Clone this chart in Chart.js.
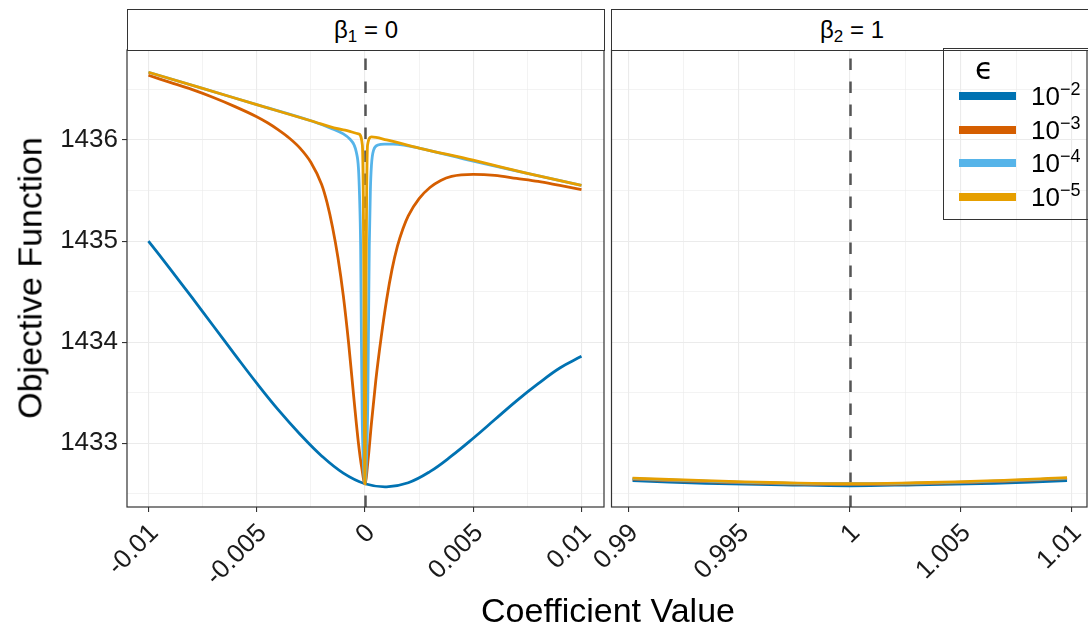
<!DOCTYPE html>
<html>
<head>
<meta charset="utf-8">
<script src="https://cdn.jsdelivr.net/npm/chart.js@4.4.1/dist/chart.umd.min.js"></script>
<style>
  body { margin: 0; background: #fff; }
  #wrap { position: relative; width: 1088px; height: 627px; overflow: hidden;
          font-family: "Liberation Sans", Arial, sans-serif; color: #000; background: #fff; }
  canvas { position: absolute; left: 0; top: 0; }
  .strip { position: absolute; top: 9px; height: 40px; border: 1px solid #333; background: #fff;
           font-size: 24px; text-align: center; line-height: 40px; box-sizing: content-box; }
  .strip sub { font-size: 17px; vertical-align: -4px; line-height: 0; }
  #ytitle { position: absolute; left: 30px; top: 278px; transform: translate(-50%, -50%) rotate(-90deg);
            font-size: 34px; white-space: nowrap; }
  #xtitle { position: absolute; left: 608px; top: 610px; transform: translate(-50%, -50%);
            font-size: 34px; white-space: nowrap; }
  #legend { position: absolute; left: 943px; top: 48px; width: 160px; height: 170px;
            border: 1px solid #333; background: transparent; }
  #legend .ltitle { position: absolute; left: 31px; top: 2px; font-family: "DejaVu Sans", sans-serif; font-size: 30px; }
  #legend .row { position: absolute; left: 0; height: 34px; width: 160px; }
  #legend .key { position: absolute; left: 15px; width: 57px; height: 8px; top: 13px; }
  #legend .lab { position: absolute; left: 87px; top: 2px; font-size: 26px; white-space: nowrap; }
  #legend .lab sup { font-size: 18px; vertical-align: 10px; line-height: 0; }
</style>
</head>
<body>
<div id="wrap">
  <canvas id="leftPanel" width="1120" height="627"></canvas>
  <canvas id="rightPanel" width="1120" height="627"></canvas>
  <div class="strip" id="stripL" style="left:127px;width:476px;">β<sub>1</sub> = 0</div>
  <div class="strip" id="stripR" style="left:611px;width:480px;">β<sub>2</sub> = 1</div>
  <div id="ytitle">Objective Function</div>
  <div id="xtitle">Coefficient Value</div>
  <div id="legend"></div>
</div>
<script>
// ---- series: objective value along the coefficient, one curve per epsilon ----
const seriesNames  = ['1e-2', '1e-3', '1e-4', '1e-5'];
const seriesExps   = ['\u22122', '\u22123', '\u22124', '\u22125'];
const seriesColors = ['#0072B2', '#D55E00', '#56B4E9', '#E69F00'];

// beta_1 panel (true value 0)
const b1X_e2 = [-0.01, -0.009, -0.008, -0.007, -0.006, -0.005, -0.004, -0.003, -0.002, -0.001, 0, 0.001, 0.002, 0.003, 0.004, 0.005, 0.006, 0.007, 0.008, 0.009, 0.01];
const b1Y_e2 = [1435.00, 1434.725, 1434.445, 1434.16, 1433.875, 1433.595, 1433.33, 1433.09, 1432.875, 1432.705, 1432.60, 1432.57, 1432.61, 1432.72, 1432.875, 1433.05, 1433.235, 1433.42, 1433.59, 1433.745, 1433.86];

const b1X_e3 = [-0.01, -0.009, -0.008, -0.007, -0.006, -0.005, -0.0045, -0.004, -0.0035, -0.003, -0.0025, -0.002, -0.00175, -0.0015, -0.00125, -0.001, -0.00075, -0.0005, -0.0003, -0.00015, 0,
                0.00015, 0.0003, 0.0005, 0.00075, 0.001, 0.00125, 0.0015, 0.00175, 0.002, 0.0025, 0.003, 0.0035, 0.004, 0.005, 0.006, 0.007, 0.008, 0.009, 0.01];
const b1Y_e3 = [1436.64, 1436.57, 1436.50, 1436.42, 1436.33, 1436.23, 1436.17, 1436.10, 1436.02, 1435.92, 1435.78, 1435.56, 1435.38, 1435.14, 1434.84, 1434.46, 1433.98, 1433.42, 1433.00, 1432.76, 1432.60,
                1432.85, 1433.20, 1433.62, 1434.05, 1434.42, 1434.72, 1434.95, 1435.12, 1435.25, 1435.42, 1435.53, 1435.60, 1435.64, 1435.66, 1435.65, 1435.62, 1435.59, 1435.55, 1435.51];

const b1X_e4 = [-0.01, -0.0075, -0.005, -0.0025, -0.0015, -0.001, -0.0007, -0.0005, -0.0004, -0.0003, -0.00025, -0.0002, -0.00017, -0.00013, -0.00008, 0, 0.00008, 0.00013, 0.00017, 0.0002, 0.00025, 0.0003, 0.0004, 0.0006, 0.0009, 0.0013, 0.0018, 0.0025, 0.005, 0.0075, 0.01];
const b1Y_e4 = [1436.67, 1436.51, 1436.35, 1436.19, 1436.11, 1436.06, 1436.01, 1435.95, 1435.88, 1435.72, 1435.45, 1434.95, 1434.20, 1433.30, 1432.85, 1432.60, 1432.90, 1433.40, 1434.30, 1434.95, 1435.50, 1435.75, 1435.90, 1435.95, 1435.96, 1435.96, 1435.95, 1435.92, 1435.79, 1435.67, 1435.55];

const b1X_e5 = [-0.01, -0.0075, -0.005, -0.0025, -0.001, -0.0003, -0.00012, -0.00008, -0.00005, -0.00003, 0, 0.00003, 0.00005, 0.00008, 0.00012, 0.0003, 0.001, 0.0025, 0.005, 0.0075, 0.01];
const b1Y_e5 = [1436.67, 1436.51, 1436.35, 1436.19, 1436.10, 1436.06, 1435.95, 1435.50, 1434.60, 1433.40, 1432.60, 1433.40, 1434.60, 1435.50, 1435.95, 1436.03, 1436.00, 1435.92, 1435.80, 1435.67, 1435.55];

// beta_2 panel (true value 1)
const b2X    = [0.9902, 0.9935, 0.997, 1.0, 1.003, 1.0065, 1.0098];
const b2Y_e2 = [1432.630, 1432.605, 1432.590, 1432.580, 1432.590, 1432.605, 1432.630];
const b2Y_e3 = [1432.645, 1432.620, 1432.600, 1432.595, 1432.600, 1432.620, 1432.650];
const b2Y_e4 = [1432.650, 1432.625, 1432.605, 1432.600, 1432.605, 1432.625, 1432.655];
const b2Y_e5 = [1432.655, 1432.630, 1432.610, 1432.600, 1432.610, 1432.630, 1432.660];

// axes
const yRange = [1432.37, 1436.89];
const yMajor = [1433, 1434, 1435, 1436];
const yMinor = [1432.5, 1433.5, 1434.5, 1435.5, 1436.5];
const yTickLabels = ['1433', '1434', '1435', '1436'];

const b1Range = [-0.01099, 0.01104];
const b1Major = [-0.01, -0.005, 0, 0.005, 0.01];
const b1Minor = [-0.0075, -0.0025, 0.0025, 0.0075];
const b1TickLabels = ['-0.01', '-0.005', '0', '0.005', '0.01'];

const b2Range = [0.98925, 1.0107];
const b2Major = [0.99, 0.995, 1, 1.005, 1.01];
const b2Minor = [0.9925, 0.9975, 1.0025, 1.0075];
const b2TickLabels = ['0.99', '0.995', '1', '1.005', '1.01'];

const b1Truth = [0];
const b2Truth = [1];

// ---- helpers ----
const FONT = '"Liberation Sans", Arial, sans-serif';
const pair = (xs, ys) => xs.map((x, i) => ({ x, y: ys[i] }));
const near = (a, b) => Math.abs(a - b) < 1e-9;
const isMajor = (list, v) => list.some(m => near(m, v));

// smooth curves get a plain spline, curves with sharp dips a monotone one
function lineDataset(i, pts, sharp) {
  const ds = {
    label: seriesNames[i],
    data: pts,
    borderColor: seriesColors[i],
    backgroundColor: seriesColors[i],
    borderWidth: 2.8,
    pointRadius: 0,
    fill: false,
    order: 3 - i
  };
  if (sharp) ds.cubicInterpolationMode = 'monotone';
  else ds.tension = 0.4;
  return ds;
}

// dashed reference line at the true coefficient (under the curves) and the panel frame (over them)
const panelDecor = {
  id: 'panelDecor',
  beforeDatasetsDraw(chart, args, opts) {
    const { ctx, chartArea: a, scales } = chart;
    ctx.save();
    ctx.beginPath();
    ctx.rect(a.left, a.top, a.right - a.left, a.bottom - a.top);
    ctx.clip();
    ctx.strokeStyle = '#555555';
    ctx.lineWidth = 2.5;
    ctx.setLineDash([11.5, 11.5]);
    (opts.refs || []).forEach(v => {
      const px = Math.round(scales.x.getPixelForValue(v)) + 0.5;
      ctx.beginPath();
      ctx.moveTo(px, a.bottom);
      ctx.lineTo(px, a.top);
      ctx.stroke();
    });
    ctx.restore();
  },
  afterDatasetsDraw(chart) {
    const { ctx, chartArea: a } = chart;
    ctx.save();
    ctx.strokeStyle = '#333333';
    ctx.lineWidth = 1.2;
    ctx.strokeRect(a.left, a.top, a.right - a.left, a.bottom - a.top);
    ctx.restore();
  }
};

function xScale(range, major, minor, labels) {
  return {
    type: 'linear',
    min: range[0], max: range[1],
    afterBuildTicks: s => { s.ticks = major.concat(minor).sort((a, b) => a - b).map(v => ({ value: v })); },
    afterFit: s => { s.height = 120; },
    border: { display: false },
    grid: {
      color: '#EBEBEB',
      lineWidth: c => (c.tick && isMajor(major, c.tick.value)) ? 1.1 : 0.6,
      tickLength: 5,
      tickWidth: 1.1,
      tickColor: c => (c.tick && isMajor(major, c.tick.value)) ? '#333333' : 'rgba(0,0,0,0)'
    },
    ticks: {
      autoSkip: false, maxRotation: 45, minRotation: 45, padding: 6, labelOffset: 6,
      color: '#1a1a1a', font: { family: FONT, size: 26 },
      callback: v => { const k = major.findIndex(m => near(m, v)); return k >= 0 ? labels[k] : ''; }
    }
  };
}

function yScale(showLabels) {
  return {
    type: 'linear',
    min: yRange[0], max: yRange[1],
    afterBuildTicks: s => { s.ticks = yMajor.concat(yMinor).sort((a, b) => a - b).map(v => ({ value: v })); },
    afterFit: s => { s.width = showLabels ? 127 : 0; },
    border: { display: false },
    grid: {
      color: '#EBEBEB',
      lineWidth: c => (c.tick && isMajor(yMajor, c.tick.value)) ? 1.1 : 0.6,
      drawTicks: showLabels,
      tickLength: 5,
      tickWidth: 1.1,
      tickColor: c => (c.tick && isMajor(yMajor, c.tick.value)) ? '#333333' : 'rgba(0,0,0,0)'
    },
    ticks: {
      display: showLabels, padding: 4,
      color: '#1a1a1a', font: { family: FONT, size: 26 },
      callback: v => { const k = yMajor.findIndex(m => near(m, v)); return k >= 0 ? yTickLabels[k] : ''; }
    }
  };
}

function baseOptions(padding, xs, ys, refs) {
  return {
    responsive: false,
    animation: false,
    layout: { padding },
    plugins: { legend: { display: false }, tooltip: { enabled: false }, panelDecor: { refs } },
    scales: { x: xs, y: ys }
  };
}

// canvases are 1120 wide; the page clips at 1088 so the right panel runs off the edge
new Chart(document.getElementById('leftPanel'), {
  type: 'line',
  data: { datasets: [
    lineDataset(0, pair(b1X_e2, b1Y_e2), false),
    lineDataset(1, pair(b1X_e3, b1Y_e3), true),
    lineDataset(2, pair(b1X_e4, b1Y_e4), true),
    lineDataset(3, pair(b1X_e5, b1Y_e5), true)
  ] },
  options: baseOptions({ left: 0, top: 50, right: 516, bottom: 0 },
    xScale(b1Range, b1Major, b1Minor, b1TickLabels), yScale(true), b1Truth),
  plugins: [panelDecor]
});

new Chart(document.getElementById('rightPanel'), {
  type: 'line',
  data: { datasets: [
    lineDataset(0, pair(b2X, b2Y_e2), false),
    lineDataset(1, pair(b2X, b2Y_e3), false),
    lineDataset(2, pair(b2X, b2Y_e4), false),
    lineDataset(3, pair(b2X, b2Y_e5), false)
  ] },
  options: baseOptions({ left: 611.5, top: 50, right: 33, bottom: 0 },
    xScale(b2Range, b2Major, b2Minor, b2TickLabels), yScale(false), b2Truth),
  plugins: [panelDecor]
});

// legend for epsilon
const legend = document.getElementById('legend');
const title = document.createElement('div');
title.className = 'ltitle';
title.textContent = '\u03F5';
legend.appendChild(title);
seriesColors.forEach((col, i) => {
  const row = document.createElement('div');
  row.className = 'row';
  row.style.top = (30 + i * 33.5) + 'px';
  row.innerHTML = '<div class="key" style="background:' + col + '"></div>' +
                  '<div class="lab">10<sup>' + seriesExps[i] + '</sup></div>';
  legend.appendChild(row);
});
</script>
</body>
</html>
